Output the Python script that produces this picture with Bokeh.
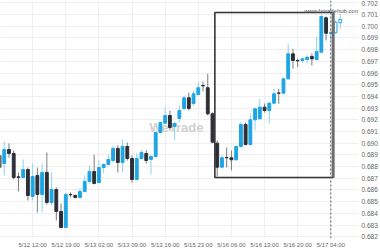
from bokeh.plotting import figure
from bokeh.models import Range1d, FixedTicker, PrintfTickFormatter, Label, ColumnDataSource
from bokeh.embed import file_html
from bokeh.resources import INLINE
from bokeh.core.properties import value

# ---- data (hourly candles, index 0 = 5/12 12:00) ----
start_index = -7
opens = [0.68895, 0.68826, 0.68946, 0.68912, 0.68712, 0.68707, 0.68775, 0.68545, 0.68724, 0.68562,
         0.68750, 0.68493, 0.68604, 0.68416, 0.68279, 0.68562, 0.68553, 0.68536, 0.68587, 0.68673,
         0.68758, 0.68664, 0.68792, 0.68818, 0.68852, 0.68955, 0.68835, 0.68972, 0.68869, 0.68690,
         0.68869, 0.68912, 0.68861, 0.68886, 0.69091, 0.69171, 0.69237, 0.69143, 0.69211, 0.69297,
         0.69388, 0.69339, 0.69416, 0.69493, 0.69474, 0.69251, 0.69000, 0.68795, 0.68878, 0.68875,
         0.68858, 0.68972, 0.69160, 0.68989, 0.69200, 0.69209, 0.69308, 0.69279, 0.69342, 0.69429,
         0.69427, 0.69550, 0.69764, 0.69707, 0.69707, 0.69715, 0.69741, 0.69715, 0.69778, 0.70072,
         0.69940, 0.69944, 0.70029]
highs = [0.68938, 0.69015, 0.68998, 0.68938, 0.68750, 0.68861, 0.68792, 0.68826, 0.68792, 0.68826,
         0.68920, 0.68750, 0.68621, 0.68485, 0.68579, 0.68579, 0.68562, 0.68613, 0.68724, 0.68809,
         0.68901, 0.68852, 0.68826, 0.68901, 0.68980, 0.68980, 0.69032, 0.69006, 0.68895, 0.68912,
         0.68938, 0.68938, 0.68895, 0.69100, 0.69185, 0.69308, 0.69279, 0.69185, 0.69322, 0.69408,
         0.69433, 0.69450, 0.69521, 0.69527, 0.69593, 0.69262, 0.69023, 0.68901, 0.68963, 0.68938,
         0.68980, 0.69179, 0.69177, 0.69256, 0.69305, 0.69379, 0.69339, 0.69356, 0.69465, 0.69465,
         0.69562, 0.69850, 0.69807, 0.69724, 0.69732, 0.69750, 0.69767, 0.69906, 0.70100, 0.70083,
         0.69963, 0.70049, 0.70106]
lows = [0.68767, 0.68724, 0.68875, 0.68690, 0.68587, 0.68698, 0.68510, 0.68510, 0.68408, 0.68408,
        0.68476, 0.68468, 0.68339, 0.68271, 0.68271, 0.68536, 0.68527, 0.68527, 0.68579, 0.68656,
        0.68647, 0.68656, 0.68741, 0.68809, 0.68835, 0.68750, 0.68750, 0.68852, 0.68664, 0.68681,
        0.68861, 0.68826, 0.68732, 0.68878, 0.69083, 0.69160, 0.69109, 0.69023, 0.69177, 0.69279,
        0.69279, 0.69322, 0.69408, 0.69442, 0.69237, 0.69000, 0.68715, 0.68792, 0.68792, 0.68767,
        0.68852, 0.68963, 0.68980, 0.68980, 0.69109, 0.69203, 0.69262, 0.69168, 0.69339, 0.69337,
        0.69425, 0.69544, 0.69636, 0.69650, 0.69690, 0.69681, 0.69664, 0.69707, 0.69775, 0.69878,
        0.69878, 0.69938, 0.69978]
closes = [0.68792, 0.68946, 0.68912, 0.68707, 0.68707, 0.68775, 0.68553, 0.68715, 0.68562, 0.68750,
          0.68493, 0.68604, 0.68416, 0.68279, 0.68562, 0.68559, 0.68536, 0.68587, 0.68673, 0.68758,
          0.68656, 0.68792, 0.68818, 0.68861, 0.68955, 0.68835, 0.68972, 0.68869, 0.68690, 0.68869,
          0.68920, 0.68852, 0.68886, 0.69091, 0.69177, 0.69237, 0.69134, 0.69168, 0.69279, 0.69388,
          0.69297, 0.69422, 0.69474, 0.69490, 0.69251, 0.69009, 0.68795, 0.68875, 0.68875, 0.68858,
          0.68972, 0.69160, 0.68989, 0.69200, 0.69294, 0.69308, 0.69279, 0.69342, 0.69422, 0.69427,
          0.69550, 0.69764, 0.69707, 0.69704, 0.69721, 0.69735, 0.69721, 0.69784, 0.70083, 0.69940,
          0.69944, 0.70034, 0.70057]

tick_index = [0, 7, 14, 21, 28, 35, 42, 49, 56, 63]
tick_labels = ["5/12 12:00", "5/12 19:00", "5/13 02:00", "5/13 09:00", "5/13 16:00",
               "5/15 23:00", "5/16 06:00", "5/16 13:00", "5/16 20:00", "5/17 04:00"]
price_ticks = [0.682, 0.683, 0.684, 0.685, 0.686, 0.687, 0.688, 0.689, 0.690, 0.691, 0.692,
               0.693, 0.694, 0.695, 0.696, 0.697, 0.698, 0.699, 0.700, 0.701, 0.702]

signal_index = 63          # 5/17 04:00
box_first, box_last = 39, 63
box_high, box_low = 0.70117, 0.68707

# ---- colours ----
UP = "#1ea5e4"
UP_WICK = "#8ed2f2"
DOWN = "#2c2f36"
DOWN_WICK = "#7c7c7c"

idx = list(range(start_index, start_index + len(opens)))

def build(sel):
    d = dict(x=[], top=[], bottom=[], high=[], low=[])
    for i, o, h, l, c in zip(idx, opens, highs, lows, closes):
        if sel(i, o, c):
            d["x"].append(i)
            d["top"].append(max(o, c))
            d["bottom"].append(min(o, c))
            d["high"].append(h)
            d["low"].append(l)
    return ColumnDataSource(d)

up_src = build(lambda i, o, c: c >= o and i <= signal_index)
dn_src = build(lambda i, o, c: c < o and i <= signal_index)
hol_src = build(lambda i, o, c: i > signal_index)

x0 = start_index + 0.21
x1 = 68.85
y0, y1 = 0.68185, 0.70220
p = figure(width=380, height=250, output_backend="svg", toolbar_location=None,
           x_range=Range1d(x0, x1), y_range=Range1d(y0, y1),
           y_axis_location="right", min_border=0, min_border_top=0, min_border_left=0,
           min_border_right=0, min_border_bottom=0)
p.outline_line_color = None
p.background_fill_color = "white"
p.border_fill_color = "white"

FONT = "Liberation Sans"

# watermark underneath
p.text(x=[30.4], y=[0.69134], text=["WeTrade"], text_font=value(FONT), text_font_size="13px",
       text_font_style="bold", text_color="#d0d0d0", text_align="center", text_baseline="middle")

# wicks
p.segment(x0="x", y0="low", x1="x", y1="high", source=up_src, line_color=UP_WICK, line_width=1)
p.segment(x0="x", y0="low", x1="x", y1="high", source=dn_src, line_color=DOWN_WICK, line_width=1)
p.segment(x0="x", y0="low", x1="x", y1="high", source=hol_src, line_color=UP_WICK, line_width=1)
# bodies
p.vbar(x="x", width=0.6, top="top", bottom="bottom", source=up_src,
       fill_color=UP, line_color=UP, line_width=1)
p.vbar(x="x", width=0.6, top="top", bottom="bottom", source=dn_src,
       fill_color=DOWN, line_color=DOWN, line_width=1)
p.vbar(x="x", width=0.6, top="top", bottom="bottom", source=hol_src,
       fill_color="white", line_color=UP, line_width=1)

# pattern box
bx0, bx1 = box_first - 0.5, box_last + 0.5
p.quad(left=[bx0], right=[bx1], top=[box_high], bottom=[box_low],
       fill_color=None, line_color="#333333", line_width=1.6)
p.segment(x0=[bx1], y0=[box_low], x1=[bx1], y1=[box_high], line_color="#6e6e6e", line_width=3)
# signal time line
p.segment(x0=[signal_index], y0=[y0], x1=[signal_index], y1=[y1],
          line_color="#556070", line_width=1, line_dash="2 2")

p.add_layout(Label(x=x1 + 0.3, y=0.70134, text="www.fxtradehub.com", text_align="right",
                   text_baseline="middle", text_font=FONT, text_font_size="6px",
                   text_color="#555555"))

# grid
p.xgrid.ticker = FixedTicker(ticks=tick_index)
p.ygrid.ticker = FixedTicker(ticks=price_ticks)
p.xgrid.grid_line_color = "#efefef"
p.ygrid.grid_line_color = "#efefef"

# axes
xa = p.xaxis[0]
xa.ticker = FixedTicker(ticks=tick_index)
xa.major_label_overrides = {t: s for t, s in zip(tick_index, tick_labels)}
ya = p.yaxis[0]
ya.ticker = FixedTicker(ticks=price_ticks)
ya.formatter = PrintfTickFormatter(format="%.3f")
for ax, fs in ((xa, "6px"), (ya, "6.5px")):
    ax.axis_line_color = None
    ax.major_tick_line_color = None
    ax.minor_tick_line_color = None
    ax.major_tick_in = 0
    ax.major_tick_out = 0
    ax.minor_tick_in = 0
    ax.minor_tick_out = 0
    ax.major_label_text_font = FONT
    ax.major_label_text_font_size = fs
    ax.major_label_text_color = "#666666"
xa.major_label_standoff = 3
ya.major_label_standoff = 3

open("out.html", "w").write(file_html(p, INLINE))
